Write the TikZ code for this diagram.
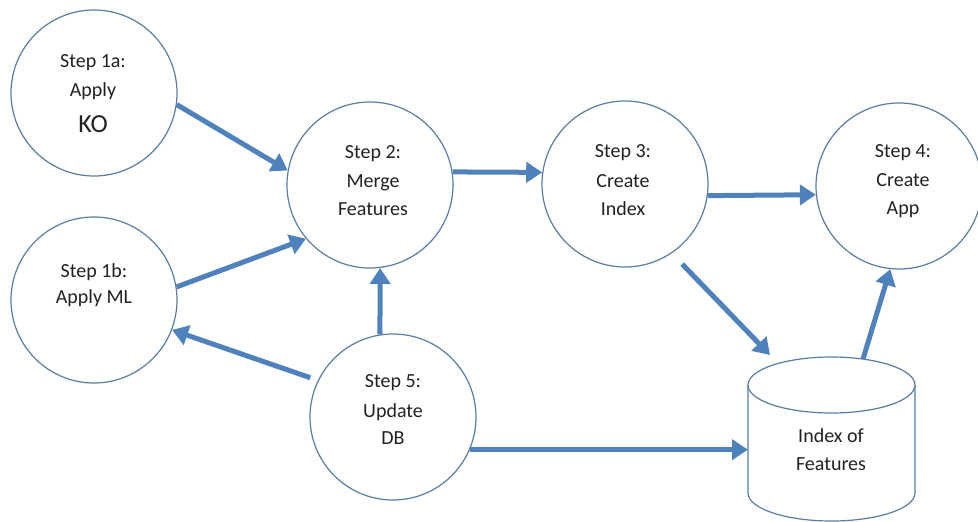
\documentclass[tikz,border=0pt]{standalone}
\usepackage{fontspec}
\setmainfont{Carlito}
\usetikzlibrary{arrows.meta}
\definecolor{arrblue}{HTML}{4F81BD}
\definecolor{ringc}{HTML}{5A7DA6}
\definecolor{txtc}{HTML}{222222}
\begin{document}
\begin{tikzpicture}[x=1pt,y=-1pt,
  ring/.style={circle, draw=ringc, line width=1.2pt, minimum size=166pt, inner sep=0pt, fill=white},
  lbl/.style={anchor=base, font=\fontsize{20}{24}\selectfont, text=txtc, inner sep=0pt},
  biglbl/.style={anchor=base, font=\fontsize{26}{30}\selectfont, text=txtc, inner sep=0pt},
  arr/.style={draw=arrblue, line width=5pt, -{Triangle[length=16pt,width=20pt]}},
  dbline/.style={draw=ringc, line width=1.2pt}
]
\clip (0,0) rectangle (978,522);
\fill[white] (0,0) rectangle (978,522);

% circles
\node[ring] (s1a) at (94,93) {};
\node[ring] (s1b) at (94,300) {};
\node[ring] (s2) at (370,185) {};
\node[ring] (s3) at (625,184) {};
\node[ring] (s4) at (899,186) {};
\node[ring] (s5) at (393,417) {};

% cylinder
\fill[white] (748,385) -- (748,493) arc[start angle=180, end angle=0, x radius=83.5, y radius=28] -- (915,385) -- cycle;
\draw[dbline] (748,385) -- (748,493) arc[start angle=180, end angle=0, x radius=83.5, y radius=28] -- (915,385);
\draw[dbline, fill=white] (831.5,385) ellipse[x radius=83.5, y radius=28];
\coordinate (dbin) at (770,355);
\coordinate (dbout) at (863,359);
\coordinate (dbleft) at (748,450);

% texts
\node[lbl] (t1a1) at (93,67) {Step 1a:};
\node[lbl] (t1a2) at (93,96) {Apply};
\node[biglbl] (t1a3) at (93,132) {KO};
\node[lbl] (t1b1) at (94,277) {Step 1b:};
\node[lbl] (t1b2) at (94,303) {Apply ML};
\node[lbl] (t21) at (373,158) {Step 2:};
\node[lbl] (t22) at (373,187) {Merge};
\node[lbl] (t23) at (373,215) {Features};
\node[lbl] (t31) at (623,157) {Step 3:};
\node[lbl] (t32) at (623,187) {Create};
\node[lbl] (t33) at (623,215) {Index};
\node[lbl] (t41) at (903,157) {Step 4:};
\node[lbl] (t42) at (903,186) {Create};
\node[lbl] (t43) at (903,214) {App};
\node[lbl] (t51) at (393,387) {Step 5:};
\node[lbl] (t52) at (393,417) {Update};
\node[lbl] (t53) at (393,444) {DB};
\node[lbl] (tdb1) at (831,442) {Index of};
\node[lbl] (tdb2) at (831,470) {Features};

% arrows
\draw[arr] (s1a.-8) -- (s2.170);
\draw[arr] (s1b.9) -- (s2.220);
\draw[arr] (s5.99) -- (s2.277);
\draw[arr, shorten <=8pt] (s5.154) -- (s1b.-21);
\draw[arr] (s2.9) -- (s3.172);
\draw[arr] (s3.-8) -- (s4.186);
\draw[arr, shorten <=15pt] (s3.-56) -- (dbin);
\draw[arr] (dbout) -- (s4.264);
\draw[arr] (s5.-23.5) -- (s5.-23.5 -| dbleft);
\end{tikzpicture}
\end{document}
